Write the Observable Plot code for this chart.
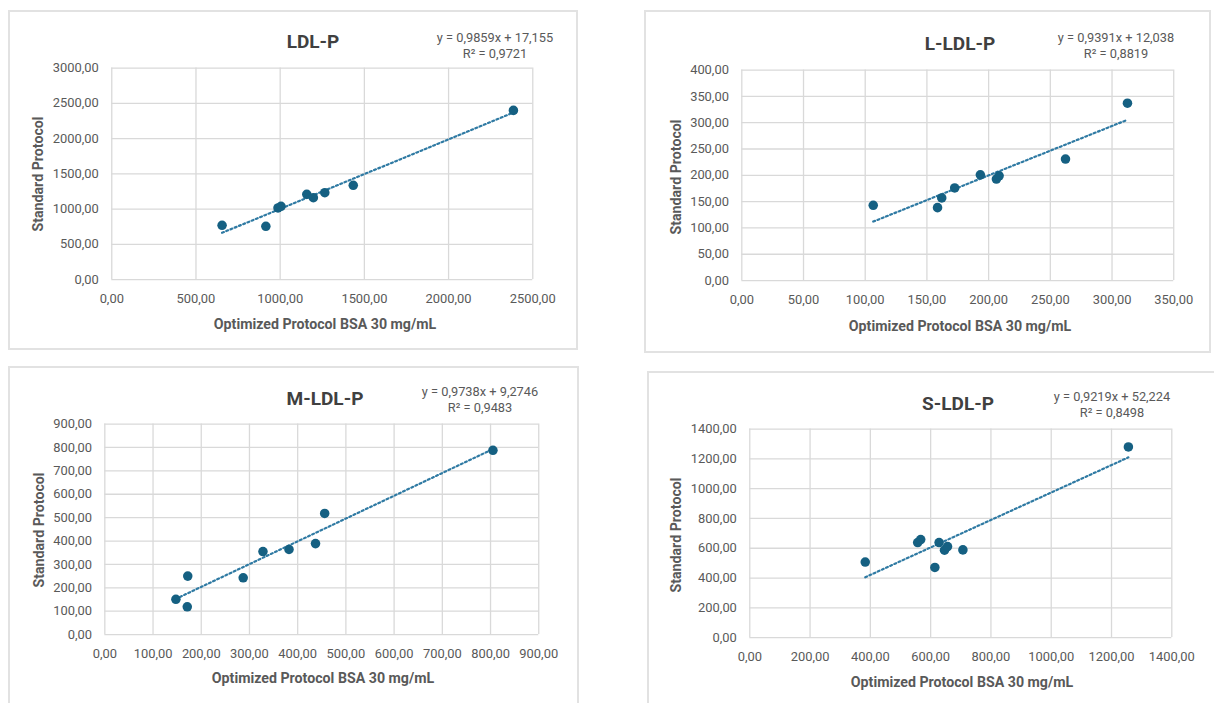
<!DOCTYPE html>
<html>
<head>
<meta charset="utf-8">
<script src="https://cdn.jsdelivr.net/npm/d3@7"></script>
<script src="https://cdn.jsdelivr.net/npm/@observablehq/plot@0.6"></script>
<style>
  html, body { margin: 0; padding: 0; background: #fff; }
  #root { position: relative; width: 1214px; height: 703px; overflow: hidden; font-family: Roboto, "Noto Sans", sans-serif; }
  .panel { position: absolute; border: 2px solid #e2e2e2; box-sizing: border-box; background: #fff; }
  .panel svg { position: absolute; left: -2px; top: -2px; }
  .txt { position: absolute; white-space: nowrap; transform: translate(-50%, -50%); color: #595959; }
  .title { font-weight: bold; font-size: 19px; color: #404040; }
  .eq { font-size: 12.8px; }
  .axt { font-weight: bold; font-size: 14.2px; }
  .axt.y { transform: translate(-50%, -50%) rotate(-90deg); }
</style>
</head>
<body>
<div id="root"></div>
<script>
// ---- data ----
const titles = ["LDL-P", "L-LDL-P", "M-LDL-P", "S-LDL-P"];
const eqLabels = ["y = 0,9859x + 17,155", "y = 0,9391x + 12,038", "y = 0,9738x + 9,2746", "y = 0,9219x + 52,224"];
const r2Labels = ["R² = 0,9721", "R² = 0,8819", "R² = 0,9483", "R² = 0,8498"];
const slopes = [0.9859, 0.9391, 0.9738, 0.9219];
const intercepts = [17.155, 12.038, 9.2746, 52.224];
const xLabel = "Optimized Protocol BSA 30 mg/mL";
const yLabel = "Standard Protocol";

const xTicks = [
  [0, 500, 1000, 1500, 2000, 2500],
  [0, 50, 100, 150, 200, 250, 300, 350],
  [0, 100, 200, 300, 400, 500, 600, 700, 800, 900],
  [0, 200, 400, 600, 800, 1000, 1200, 1400]
];
const yTicks = [
  [0, 500, 1000, 1500, 2000, 2500, 3000],
  [0, 50, 100, 150, 200, 250, 300, 350, 400],
  [0, 100, 200, 300, 400, 500, 600, 700, 800, 900],
  [0, 200, 400, 600, 800, 1000, 1200, 1400]
];

const ldlX  = [655, 915, 987, 1005, 1158, 1197, 1265, 1434, 2385];
const ldlY  = [770, 756, 1016, 1039, 1209, 1162, 1233, 1337, 2400];
const lldlX = [106.5, 158.6, 162, 172.5, 193.3, 206.3, 208.5, 262.3, 312.5];
const lldlY = [143, 138.6, 157, 176, 201, 193, 199, 231, 337];
const mldlX = [147.4, 172, 171, 287, 328, 382, 437, 456, 805];
const mldlY = [151, 250, 119, 243, 355, 364, 389, 518, 788];
const sldlX = [383, 557, 567, 614, 628, 646, 656, 707, 1256];
const sldlY = [507, 638, 658, 471, 638, 587, 611, 589, 1280];

const seriesX = [ldlX, lldlX, mldlX, sldlX];
const seriesY = [ldlY, lldlY, mldlY, sldlY];

// ---- layout ----
const layout = [
  {box: [8, 10, 570, 340],   m: [58, 42, 69, 104], title: [313, 41],  eq: [495, 37],  yt: [38, 174],  xt: [325, 324]},
  {box: [644, 10, 567, 343], m: [60, 34, 71, 98],  title: [960, 43],  eq: [1116, 37], yt: [676, 177], xt: [960, 326]},
  {box: [8, 366, 571, 340],  m: [58, 37, 70, 97],  title: [325, 398], eq: [480, 391], yt: [39, 530],  xt: [323, 678]},
  {box: [647, 371, 572, 340],m: [58, 44, 72, 103], title: [958, 403], eq: [1112, 396],yt: [676, 535], xt: [962, 682]}
];

const color = "#156082";
const fmt = d => d3.format(".2f")(d).replace(".", ",");
const root = document.getElementById("root");

function addText(cls, txt, x, y) {
  const el = document.createElement("div");
  el.className = "txt " + cls;
  el.textContent = txt;
  el.style.left = x + "px";
  el.style.top = y + "px";
  root.appendChild(el);
}

layout.forEach((L, i) => {
  const [bx, by, bw, bh] = L.box;
  const [mt, mr, mb, ml] = L.m;
  const div = document.createElement("div");
  div.className = "panel";
  div.style.left = bx + "px"; div.style.top = by + "px";
  div.style.width = bw + "px"; div.style.height = bh + "px";
  root.appendChild(div);

  const pts = seriesX[i].map((x, k) => ({x, y: seriesY[i][k]}));
  const ext = d3.extent(seriesX[i]);
  const trend = ext.map(x => ({x, y: slopes[i] * x + intercepts[i]}));
  const xt = xTicks[i], yt = yTicks[i];

  const chart = Plot.plot({
    width: bw, height: bh,
    marginTop: mt, marginRight: mr, marginBottom: mb, marginLeft: ml,
    style: {fontFamily: "Roboto, sans-serif", fontSize: "13px", color: "#595959", background: "transparent", overflow: "visible"},
    x: {domain: [0, xt[xt.length - 1]], label: null},
    y: {domain: [0, yt[yt.length - 1]], label: null},
    marks: [
      Plot.gridX(xt, {stroke: "#d9d9d9", strokeOpacity: 1, strokeWidth: 1.3}),
      Plot.gridY(yt, {stroke: "#d9d9d9", strokeOpacity: 1, strokeWidth: 1.3}),
      Plot.axisX(xt, {tickSize: 0, tickPadding: 14, tickFormat: fmt, label: null, fill: "#595959"}),
      Plot.axisY(yt, {tickSize: 0, tickPadding: 13, tickFormat: fmt, label: null, fill: "#595959"}),
      Plot.line(trend, {x: "x", y: "y", stroke: "#2f7aa3", strokeWidth: 2.2, strokeDasharray: "2,2.6"}),
      Plot.dot(pts, {x: "x", y: "y", r: 4.8, fill: color, stroke: "none"})
    ]
  });
  div.appendChild(chart);

  addText("title", titles[i], L.title[0], L.title[1]);
  addText("eq", eqLabels[i], L.eq[0], L.eq[1]);
  addText("eq", r2Labels[i], L.eq[0], L.eq[1] + 16);
  addText("axt y", yLabel, L.yt[0], L.yt[1]);
  addText("axt", xLabel, L.xt[0], L.xt[1]);
});
</script>
</body>
</html>
